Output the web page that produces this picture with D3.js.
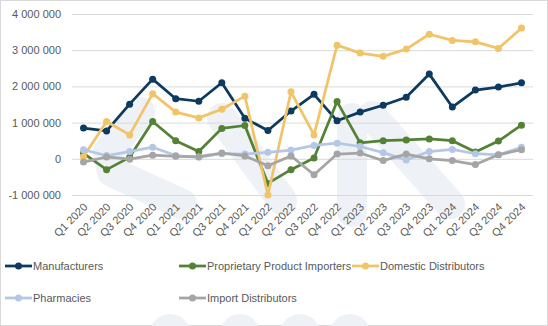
<!DOCTYPE html>
<html>
<head>
<meta charset="utf-8">
<script src="https://cdn.jsdelivr.net/npm/d3@7"></script>
<style>
  body { margin: 0; background: #fff; }
  svg { display: block; font-family: "Liberation Sans", Arial, sans-serif; }
</style>
</head>
<body>
<div id="chart"></div>
<script>
// quarters on the x axis
const quarters = [
  "Q1 2020", "Q2 2020", "Q3 2020", "Q4 2020",
  "Q1 2021", "Q2 2021", "Q3 2021", "Q4 2021",
  "Q1 2022", "Q2 2022", "Q3 2022", "Q4 2022",
  "Q1 2023", "Q2 2023", "Q3 2023", "Q4 2023",
  "Q1 2024", "Q2 2024", "Q3 2024", "Q4 2024"
];

const yTicks = [-1000000, 0, 1000000, 2000000, 3000000, 4000000];

// values per series
const manufacturers = [
  850000, 770000, 1510000, 2200000, 1660000, 1590000, 2100000, 1120000, 780000, 1320000,
  1780000, 1050000, 1290000, 1480000, 1700000, 2340000, 1430000, 1900000, 1980000, 2100000
];
const proprietaryImporters = [
  150000, -300000, 40000, 1030000, 500000, 200000, 840000, 920000, -680000, -300000,
  20000, 1580000, 440000, 500000, 520000, 550000, 500000, 190000, 490000, 930000
];
const domesticDistributors = [
  60000, 1030000, 660000, 1800000, 1290000, 1130000, 1370000, 1730000, -1000000, 1850000,
  660000, 3140000, 2920000, 2830000, 3030000, 3440000, 3270000, 3230000, 3050000, 3610000
];
const pharmacies = [
  250000, 90000, 200000, 320000, 90000, 40000, 140000, 130000, 180000, 240000,
  370000, 430000, 340000, 170000, -30000, 200000, 260000, 140000, 110000, 320000
];
const importDistributors = [
  -90000, 50000, -10000, 100000, 70000, 60000, 160000, 80000, -190000, 80000,
  -440000, 130000, 160000, -50000, 130000, 0, -50000, -160000, 110000, 250000
];

const seriesNames = [
  "Manufacturers", "Proprietary Product Importers", "Domestic Distributors",
  "Pharmacies", "Import Distributors"
];
const seriesColors = ["#0d3a5e", "#548235", "#f2c469", "#b4c7e7", "#a5a5a5"];
const seriesValues = [manufacturers, proprietaryImporters, domesticDistributors, pharmacies, importDistributors];

const W = 548, H = 326;
const plot = { left: 72, right: 533, top: 14, bottom: 195 };

const svg = d3.select("#chart").append("svg")
  .attr("width", W)
  .attr("height", H);

svg.append("rect")
  .attr("x", 0.5).attr("y", 0.5)
  .attr("width", W - 1).attr("height", H - 1)
  .attr("fill", "#fff")
  .attr("stroke", "#d9d9d9");

// faint logo in the background
const logo = svg.append("g")
  .attr("fill", "none")
  .attr("stroke", "#eef2f6")
  .attr("stroke-linecap", "round")
  .attr("stroke-linejoin", "round")
  .attr("stroke-width", 30);
logo.append("path").attr("d", "M140,112 L108,152 L112,172 L182,204");
logo.append("path").attr("d", "M222,118 L282,200");
logo.append("path").attr("d", "M352,118 L352,212");
logo.append("path").attr("d", "M372,116 L450,204");
[170, 240, 300, 350].forEach(cx => {
  logo.append("circle").attr("cx", cx).attr("cy", 334).attr("r", 20)
    .attr("fill", "#eef2f6").attr("stroke", "none");
});

const x = d3.scaleBand()
  .domain(quarters)
  .range([plot.left, plot.right]);

const y = d3.scaleLinear()
  .domain([-1000000, 4000000])
  .range([plot.bottom, plot.top]);

const locale = d3.formatLocale({ decimal: ",", thousands: "\u00a0", grouping: [3], currency: ["", ""], minus: "-" });
const fmt = locale.format(",d");

// y axis with gridlines
const yAxis = svg.append("g")
  .attr("transform", `translate(${plot.left},0)`)
  .call(d3.axisLeft(y)
    .tickValues(yTicks)
    .tickSize(-(plot.right - plot.left))
    .tickPadding(11)
    .tickFormat(d => fmt(d)));
yAxis.select(".domain").remove();
yAxis.selectAll(".tick line").attr("stroke", "#d9d9d9");
yAxis.selectAll(".tick text")
  .attr("fill", "#595959")
  .attr("font-size", 11);

// category labels
const xAxis = svg.append("g")
  .attr("transform", `translate(0,${plot.bottom + 8})`)
  .call(d3.axisBottom(x).tickSize(0).tickPadding(0));
xAxis.select(".domain").remove();
xAxis.selectAll(".tick text")
  .attr("fill", "#595959")
  .attr("font-size", 11)
  .attr("text-anchor", "end")
  .attr("dy", "0.35em")
  .attr("transform", "translate(2,2) rotate(-45)");

const cx = d => x(d) + x.bandwidth() / 2;

const line = d3.line()
  .x((d, i) => cx(quarters[i]))
  .y(d => y(d));

seriesValues.forEach((vals, k) => {
  const g = svg.append("g");
  g.append("path")
    .datum(vals)
    .attr("fill", "none")
    .attr("stroke", seriesColors[k])
    .attr("stroke-width", 2.75)
    .attr("stroke-linejoin", "round")
    .attr("d", line);
  g.selectAll("circle")
    .data(vals)
    .join("circle")
    .attr("cx", (d, i) => cx(quarters[i]))
    .attr("cy", d => y(d))
    .attr("r", 3.5)
    .attr("fill", seriesColors[k]);
});

// legend
const legendPos = [[5, 266], [179, 266], [352, 266], [5, 298], [179, 298]];
seriesNames.forEach((name, k) => {
  const [lx, ly] = legendPos[k];
  const g = svg.append("g").attr("transform", `translate(${lx},${ly})`);
  g.append("line")
    .attr("x1", 0).attr("x2", 27)
    .attr("stroke", seriesColors[k])
    .attr("stroke-width", 2.75);
  g.append("circle").attr("cx", 13.5).attr("r", 3.5).attr("fill", seriesColors[k]);
  g.append("text")
    .attr("x", 28)
    .attr("dy", "0.35em")
    .attr("font-size", 11)
    .attr("fill", "#595959")
    .text(name);
});
</script>
</body>
</html>
